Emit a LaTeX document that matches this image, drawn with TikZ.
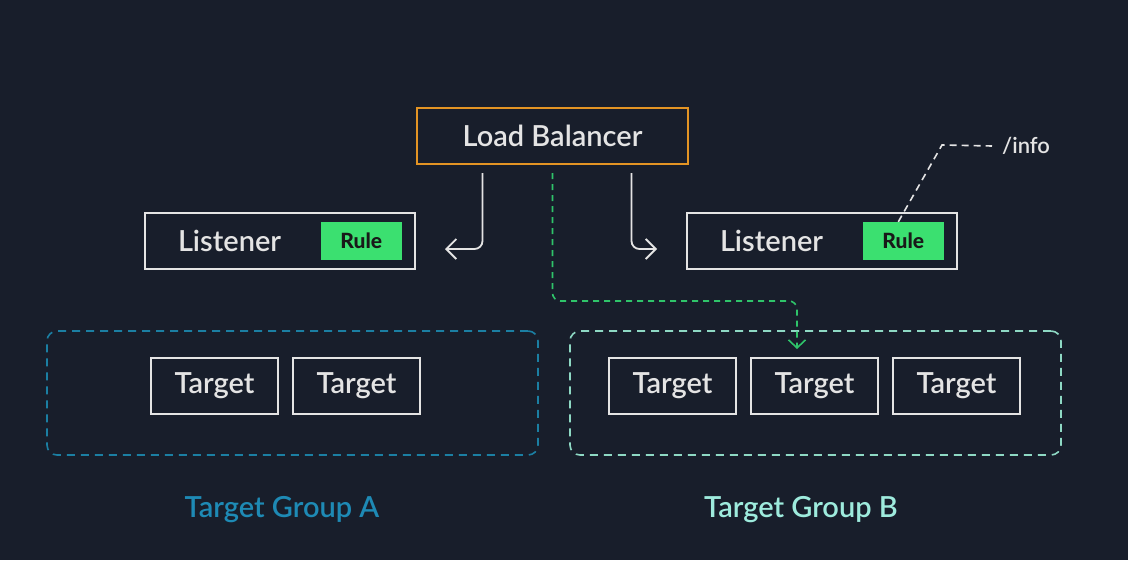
\documentclass[tikz,border=0pt]{standalone}
\usepackage{fontspec}
\setmainfont{Lato}[BoldFont={Lato Bold}]
\newfontfamily\semi{Lato Semibold}
\newfontfamily\heavy{Lato Heavy}
\usetikzlibrary{positioning,arrows.meta}
\definecolor{bgc}{HTML}{181E2B}
\definecolor{lbc}{HTML}{E39424}
\definecolor{rulec}{HTML}{3BE070}
\definecolor{greenc}{HTML}{2FC46A}
\definecolor{grpa}{HTML}{1B7FA3}
\definecolor{grpb}{HTML}{8ED9C4}
\definecolor{labb}{HTML}{9EEBDD}
\definecolor{labaa}{HTML}{1E8AB5}
\definecolor{wht}{HTML}{E4E4E4}
\newcommand{\RL}[1]{\textcolor{black!90}{\heavy #1}}

\begin{document}
\begin{tikzpicture}[x=1pt, y=-1pt,
  box/.style={draw=wht, line width=2pt, text=wht, font=\semi\fontsize{29}{31}\selectfont},
  lbbox/.style={box, draw=lbc, minimum width=271pt, minimum height=56pt},
  lstbox/.style={box, minimum height=56pt, inner xsep=33pt, text width=204pt, align=left},
  rulebox/.style={fill=rulec, minimum width=81pt, minimum height=38pt, font=\fontsize{21}{23}\selectfont},
  tgtbox/.style={box, minimum width=127pt, minimum height=56pt, inner sep=0pt},
  grpbox/.style={line width=1.6pt, dash pattern=on 8pt off 6pt, rounded corners=10pt,
    minimum width=491pt, minimum height=124pt},
  conn/.style={draw=wht, line width=1.8pt, rounded corners=8pt,
    -{Straight Barb[length=10pt,width=20pt,line width=1.8pt]}},
  glab/.style={font=\semi\fontsize{29}{31}\selectfont}]

  \fill[bgc] (0,0) rectangle (1128,560);

  \node[lbbox] (lb) at (552.5,136) {Load Balancer};

  \node[lstbox] (lstA) at (280,241) {Listener};
  \node[rulebox, left=14pt of lstA.east] (ruleA) {\RL{Rule}};
  \node[lstbox] (lstB) at (822,241) {Listener};
  \node[rulebox, left=14pt of lstB.east] (ruleB) {\RL{Rule}};

  %% target group A
  \node[grpbox, draw=grpa] (grpA) at (292.5,393) {};
  \node[tgtbox] (tA1) at (214.5,386) {Target};
  \node[tgtbox, right=13pt of tA1] (tA2) {Target};
  \node[glab, text=labaa] (labA) at (282,510) {Target Group A};

  %% target group B
  \node[grpbox, draw=grpb] (grpB) at (815.5,393) {};
  \node[tgtbox] (tB1) at (672.5,386) {Target};
  \node[tgtbox, right=13pt of tB1] (tB2) {Target};
  \node[tgtbox, right=13pt of tB2] (tB3) {Target};
  \node[glab, text=labb] (labB) at (801,510) {Target Group B};

  \draw[conn] ([xshift=-70pt, yshift=-8pt]lb.south) |- ([xshift=29pt, yshift=-8pt]lstA.east); % LB->A
  \draw[conn] ([xshift=79pt, yshift=-8pt]lb.south) |- ([xshift=-29pt, yshift=-8pt]lstB.west); % LB->B

  % green path to one target
  \coordinate (bend) at (797,301);
  \draw[greenc, line width=1.6pt, dash pattern=on 6pt off 5pt, rounded corners=8pt,
    -{Straight Barb[length=8pt,width=17pt,line width=1.6pt]}]
    ([yshift=-8pt]lb.south) |- (bend) -- ([yshift=8pt]bend |- tB2.north);

  % rule path
  \coordinate (knee) at (942,145);
  \node[anchor=west, text=wht, inner sep=0pt, font=\semi\fontsize{22}{24}\selectfont] (info) at (1002,146) {/info};
  \draw[wht, line width=1.6pt, dash pattern=on 7pt off 5pt]
    ([xshift=-5pt]ruleB.north) -- (knee) -- ([xshift=-10pt]info.west);
\end{tikzpicture}
\end{document}
